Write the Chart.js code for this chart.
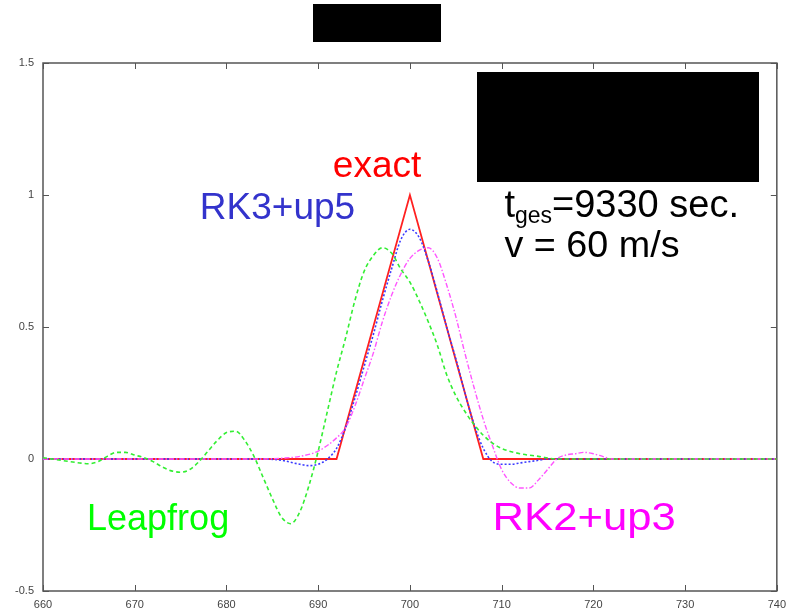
<!DOCTYPE html>
<html>
<head>
<meta charset="utf-8">
<script src="https://cdn.jsdelivr.net/npm/chart.js@4.4.1/dist/chart.umd.min.js"></script>
<style>
  body { margin: 0; background: #fff; }
  #wrap { position: relative; width: 793px; height: 615px; }
</style>
</head>
<body>
<div id="wrap"><canvas id="myChart"></canvas></div>
<script>
// --- data ---
const xTicks = [660, 670, 680, 690, 700, 710, 720, 730, 740];
const yTicks = [-0.5, 0, 0.5, 1, 1.5];

const exactX = [660, 692, 700, 708, 740];
const exactY = [0, 0, 1, 0, 0];

const rk3X = [660, 684, 686, 688, 689, 690, 691, 692, 693, 694, 695, 696, 697, 698, 699, 700, 701, 702, 703, 704, 705, 706, 707, 708, 709, 710, 711, 712, 713, 714, 715, 740];
const rk3Y = [0, 0, -0.005, -0.02, -0.025, -0.02, 0, 0.04, 0.12, 0.23, 0.35, 0.47, 0.6, 0.72, 0.83, 0.87, 0.84, 0.75, 0.63, 0.5, 0.38, 0.25, 0.13, 0.04, -0.01, -0.02, -0.02, -0.015, -0.01, -0.005, 0, 0];

const rk2X = [660, 684, 686, 688, 690, 692, 693, 694, 695, 696, 697, 698, 699, 700, 701, 702, 703, 704, 705, 706, 707, 708, 709, 710, 711, 712, 713, 714, 715, 716, 717, 718, 719, 720, 721, 722, 740];
const rk2Y = [0, 0, 0.003, 0.01, 0.03, 0.08, 0.12, 0.2, 0.3, 0.4, 0.52, 0.62, 0.7, 0.76, 0.79, 0.8, 0.76, 0.66, 0.54, 0.4, 0.27, 0.15, 0.05, -0.04, -0.09, -0.11, -0.11, -0.08, -0.04, 0, 0.015, 0.02, 0.025, 0.02, 0.01, 0, 0];

const leapX = [660, 662, 664, 665, 666, 667, 668, 669, 670, 671, 672, 673, 674, 675, 676, 677, 678, 679, 680, 681, 682, 683, 684, 685, 686, 687, 688, 689, 690, 691, 692, 693, 694, 695, 696, 697, 698, 699, 700, 701, 702, 703, 704, 705, 706, 707, 708, 709, 710, 712, 714, 716, 740];
const leapY = [0.005, -0.005, -0.015, -0.018, -0.01, 0.01, 0.025, 0.025, 0.015, 0.005, -0.01, -0.03, -0.045, -0.05, -0.04, -0.01, 0.03, 0.07, 0.1, 0.105, 0.07, 0.01, -0.07, -0.15, -0.22, -0.245, -0.2, -0.1, 0.03, 0.18, 0.33, 0.46, 0.6, 0.71, 0.77, 0.8, 0.78, 0.72, 0.67, 0.6, 0.52, 0.43, 0.32, 0.24, 0.18, 0.13, 0.09, 0.06, 0.04, 0.02, 0.01, 0, 0];

const toPoints = (xs, ys) => xs.map((x, i) => ({x: x, y: ys[i]}));

// text labels placed in data coordinates (size in px, sx = horizontal stretch)
const labels = [
  {text: 'exact', x: 691.6, y: 1.068, color: '#ff0000', size: 37, sx: 1},
  {text: 'RK3+up5', x: 677.1, y: 0.909, color: '#3333cc', size: 37, sx: 1},
  {text: 'Leapfrog', x: 664.8, y: -0.269, color: '#00ff00', size: 36, sx: 1},
  {text: 'RK2+up3', x: 709.0, y: -0.269, color: '#ff00ff', size: 39, sx: 1.12},
  {text: 'v = 60 m/s', x: 710.3, y: 0.765, color: '#000000', size: 37, sx: 1.02}
];

const frameColor = '#555';
const fontFam = '"Liberation Sans", Arial, sans-serif';

const framePlugin = {
  id: 'frame',
  beforeDatasetsDraw(chart) {
    const {ctx, chartArea: a, scales} = chart;
    ctx.save();
    ctx.strokeStyle = frameColor;
    ctx.lineWidth = 1.5;
    ctx.strokeRect(a.left, a.top, a.right - a.left, a.bottom - a.top);
    ctx.lineWidth = 1;
    ctx.beginPath();
    xTicks.forEach(v => {
      const px = Math.round(scales.x.getPixelForValue(v)) + 0.5;
      ctx.moveTo(px, a.bottom); ctx.lineTo(px, a.bottom - 6);
      ctx.moveTo(px, a.top); ctx.lineTo(px, a.top + 6);
    });
    yTicks.forEach(v => {
      const py = Math.round(scales.y.getPixelForValue(v)) + 0.5;
      ctx.moveTo(a.left, py); ctx.lineTo(a.left + 6, py);
      ctx.moveTo(a.right, py); ctx.lineTo(a.right - 6, py);
    });
    ctx.stroke();
    ctx.restore();
  }
};

const textPlugin = {
  id: 'texts',
  afterDatasetsDraw(chart) {
    const {ctx, scales} = chart;
    ctx.save();
    ctx.textBaseline = 'alphabetic';
    ctx.textAlign = 'left';
    labels.forEach(l => {
      ctx.save();
      ctx.translate(scales.x.getPixelForValue(l.x), scales.y.getPixelForValue(l.y));
      ctx.scale(l.sx, 1);
      ctx.font = l.size + 'px ' + fontFam;
      ctx.fillStyle = l.color;
      ctx.fillText(l.text, 0, 0);
      ctx.restore();
    });
    // t_ges line
    let px = scales.x.getPixelForValue(710.3);
    const py = scales.y.getPixelForValue(0.917);
    ctx.fillStyle = '#000';
    ctx.font = '38px ' + fontFam;
    ctx.fillText('t', px, py);
    px += ctx.measureText('t').width;
    ctx.font = '23px ' + fontFam;
    ctx.fillText('ges', px, py + 6);
    px += ctx.measureText('ges').width;
    ctx.font = '38px ' + fontFam;
    ctx.fillText('=9330 sec.', px, py);
    // redacted boxes
    ctx.fillRect(313, 4, 128, 38);
    ctx.fillRect(477, 72, 282, 110);
    ctx.restore();
  }
};

const tickFont = {family: fontFam, size: 11};

const data = {
  datasets: [
    {
      label: 'Leapfrog',
      data: toPoints(leapX, leapY),
      borderColor: '#33ee33',
      borderWidth: 1.6,
      borderDash: [4, 3],
      cubicInterpolationMode: 'monotone'
    },
    {
      label: 'RK2+up3',
      data: toPoints(rk2X, rk2Y),
      borderColor: '#ff55ff',
      borderWidth: 1.4,
      borderDash: [5, 2, 1.5, 2],
      cubicInterpolationMode: 'monotone'
    },
    {
      label: 'RK3+up5',
      data: toPoints(rk3X, rk3Y),
      borderColor: '#3a3aff',
      borderWidth: 1.6,
      borderDash: [2, 2],
      cubicInterpolationMode: 'monotone'
    },
    {
      label: 'exact',
      data: toPoints(exactX, exactY),
      borderColor: '#ff2020',
      borderWidth: 1.8,
      tension: 0
    }
  ]
};

const config = {
  type: 'line',
  data: data,
  options: {
    responsive: true,
    maintainAspectRatio: false,
    animation: false,
    events: [],
    elements: {point: {radius: 0}},
    layout: {padding: {top: 63, right: 15, left: 0, bottom: 0}},
    plugins: {
      legend: {display: false},
      tooltip: {enabled: false}
    },
    scales: {
      x: {
        type: 'linear',
        min: 660,
        max: 740,
        afterFit: s => { s.height = 24; },
        afterBuildTicks: s => { s.ticks = xTicks.map(v => ({value: v})); },
        grid: {display: false, drawTicks: false},
        border: {display: false},
        ticks: {color: '#444', font: tickFont, padding: 7, maxRotation: 0}
      },
      y: {
        min: -0.5,
        max: 1.5,
        afterFit: s => { s.width = 43; },
        afterBuildTicks: s => { s.ticks = yTicks.map(v => ({value: v})); },
        grid: {display: false, drawTicks: false},
        border: {display: false},
        ticks: {color: '#444', font: tickFont, padding: 9, callback: v => String(v)}
      }
    }
  },
  plugins: [framePlugin, textPlugin]
};

var myChart = new Chart(document.getElementById('myChart'), config);
</script>
</body>
</html>
